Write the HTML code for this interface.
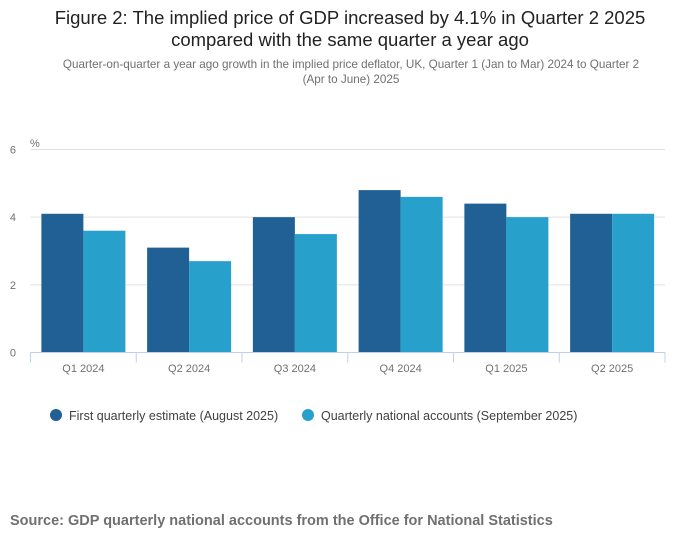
<!DOCTYPE html>
<html><head><meta charset="utf-8">
<style>
body{margin:0;background:#fff;font-family:"Liberation Sans",sans-serif;}
#wrap{position:relative;width:700px;height:549px;overflow:hidden;}
.t{position:absolute;text-align:center;}
</style></head>
<body>
<div id="wrap">
<div class="t" style="left:0;width:700px;top:7px;font-size:18.5px;line-height:22px;color:#222;">Figure 2: The implied price of GDP increased by 4.1% in Quarter 2 2025<br>compared with the same quarter a year ago</div>
<div class="t" style="left:38px;width:626px;top:57px;font-size:11.7px;line-height:15px;color:#707070;">Quarter-on-quarter a year ago growth in the implied price deflator, UK, Quarter 1 (Jan to Mar) 2024 to Quarter 2<br>(Apr to June) 2025</div>
<svg id="chart" width="700" height="549" style="position:absolute;left:0;top:0"></svg>
<div style="position:absolute;left:10px;top:513px;font-size:14.5px;font-weight:bold;color:#707070;">Source: GDP quarterly national accounts from the Office for National Statistics</div>
</div>
<script>
const categories=["Q1 2024","Q2 2024","Q3 2024","Q4 2024","Q1 2025","Q2 2025"];
const firstEstimate=[4.1,3.1,4.0,4.8,4.4,4.1];
const nationalAccounts=[3.6,2.7,3.5,4.6,4.0,4.1];
const yTicks=[0,2,4,6];
const seriesNames=["First quarterly estimate (August 2025)","Quarterly national accounts (September 2025)"];
const colors=["#206095","#27a0cc"];
const NS="http://www.w3.org/2000/svg";
const svg=document.getElementById('chart');
const L=30.5,R=665,T=149.5,B=352.5,yMax=6;
const y=v=>B-(v/yMax)*(B-T);
const cw=(R-L)/categories.length;
const x=i=>L+i*cw;
function mk(tag,attrs){const e=document.createElementNS(NS,tag);for(const k in attrs)e.setAttribute(k,attrs[k]);svg.appendChild(e);return e;}
yTicks.forEach(t=>{
  if(t>0){const g=mk('line',{x1:L,x2:R,y1:y(t),y2:y(t),stroke:'#e0e0e0','stroke-width':1});
  
  }
  const tx=mk('text',{x:16,y:y(t)+4,'text-anchor':'end','font-size':11,fill:'#707070','font-family':'Liberation Sans, sans-serif'});
  tx.textContent=t;
  
  
});
const pu=mk('text',{x:30,y:147,'font-size':11,fill:'#707070','font-family':'Liberation Sans, sans-serif'});
pu.textContent='%';


const bw=42, pad=(cw-2*bw)/2;
categories.forEach((c,i)=>{
  [firstEstimate,nationalAccounts].forEach((s,j)=>{
    const r=mk('rect',{x:x(i)+pad+j*bw,y:y(s[i]),width:bw,height:B-y(s[i]),fill:colors[j]});
    
    
  });
  const lb=mk('text',{x:x(i)+cw/2,y:372,'text-anchor':'middle','font-size':11,fill:'#707070','font-family':'Liberation Sans, sans-serif'});
  lb.textContent=c;
  
  
});
const ax=mk('line',{x1:L,x2:R,y1:B,y2:B,stroke:'#bfd0e8','stroke-width':1});


for(let i=0;i<=categories.length;i++){
  const tk=mk('line',{x1:x(i),x2:x(i),y1:B,y2:B+10,stroke:'#bfd0e8','stroke-width':1});
  
  
}
const lx=[56,308];
seriesNames.forEach((n,j)=>{
  const c=mk('circle',{cx:lx[j],cy:415,r:6,fill:colors[j]});
  
  
  const t=mk('text',{x:lx[j]+13,y:420,'font-size':12.5,fill:'#414042','font-family':'Liberation Sans, sans-serif'});
  t.textContent=n;
  
  
});
</script>
</body></html>
